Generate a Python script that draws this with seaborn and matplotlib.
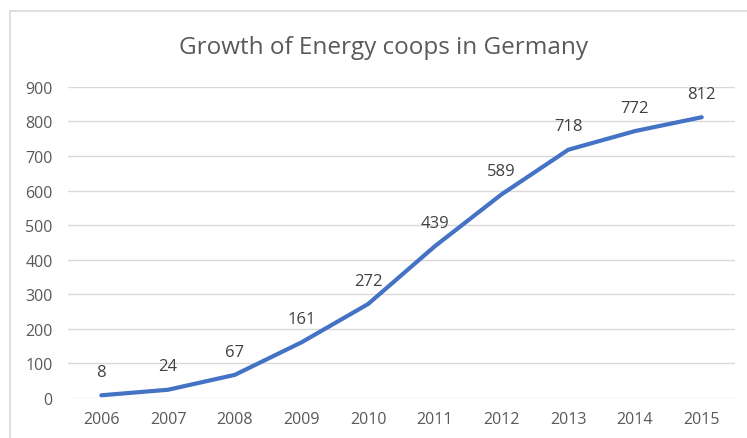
import matplotlib
matplotlib.use("Agg")
import matplotlib.pyplot as plt
import matplotlib.patches as mpatches
import pandas as pd
import seaborn as sns

sns.set_theme(style="white")
plt.rcParams['font.family'] = ['Open Sans', 'DejaVu Sans']

# data
years = ['2006', '2007', '2008', '2009', '2010', '2011', '2012', '2013', '2014', '2015']
coops = [8, 24, 67, 161, 272, 439, 589, 718, 772, 812]
y_ticks = [0, 100, 200, 300, 400, 500, 600, 700, 800, 900]

df = pd.DataFrame({'year': years, 'coops': coops})
df['pos'] = range(len(years))

fig = plt.figure(figsize=(7.47, 4.39), dpi=100)
ax = fig.add_axes([0.091, 0.091, 0.893, 0.709])

# chart-area frame
fig.patches.append(mpatches.Rectangle((10 / 747, -0.05), 1.0, 1 - 12 / 439 + 0.05,
                                      transform=fig.transFigure, fill=False,
                                      edgecolor='#d9d9d9', linewidth=1.2))

sns.lineplot(ax=ax, data=df, x='pos', y='coops', color='#4472C4', linewidth=3)

for x, v in zip(df['pos'], df['coops']):
    ax.annotate(str(v), (x, v), xytext=(0, 11), textcoords='offset points',
                ha='center', va='bottom', fontsize=12, color='#404040')

ax.set_xlim(-0.5, len(years) - 0.5)
ax.set_ylim(0, 900)
ax.set_yticks(y_ticks)
ax.set_xticks(df['pos'])
ax.set_xticklabels(years)
ax.yaxis.grid(True, color='#d9d9d9', linewidth=1)
ax.xaxis.grid(False)
for s in ax.spines.values():
    s.set_visible(False)
ax.tick_params(axis='both', length=0, labelsize=11.5, labelcolor='#595959')
ax.tick_params(axis='x', pad=9)
ax.tick_params(axis='y', pad=11)
ax.set_xlabel('')
ax.set_ylabel('')
fig.text(0.513, 0.89, 'Growth of Energy coops in Germany', ha='center', va='center',
         fontsize=17.5, color='#595959')

fig.savefig('out.png', dpi=100)
